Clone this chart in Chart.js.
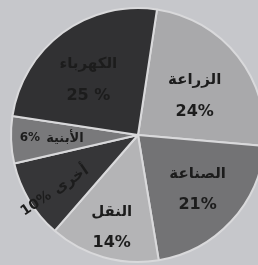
<!DOCTYPE html>
<html>
<head>
<meta charset="utf-8">
<script src="https://cdn.jsdelivr.net/npm/chart.js@4"></script>
<style>
  html, body { margin: 0; padding: 0; width: 258px; height: 265px; overflow: hidden; background: #c6c7cb; }
  #wrap { position: absolute; left: 0; top: 0; width: 276px; height: 270px; }
</style>
</head>
<body>
<div id="wrap"><canvas id="pie" width="276" height="270"></canvas></div>
<script>
// sectors, clockwise from the top
const sectors = ['الزراعة', 'الصناعة', 'النقل', 'أخرى', 'الأبنية', 'الكهرباء'];
const shares = [24, 21, 14, 10, 6, 25];
const shareLabels = ['24%', '21%', '14%', '10%', '6%', '25 %'];

// slice fill colours
const fills = ['#a9a9ab', '#737375', '#b4b4b6', '#363638', '#79797b', '#313133'];

// how each label sits in its slice: distance (fraction of radius), extra turn (deg),
// font size, stacked or single line, rotated along the radius
const labelStyle = [
  { dist: 0.54, turn: 4, size: 15, stacked: true },
  { dist: 0.64, turn: 0, size: 15, stacked: true },
  { dist: 0.76, turn: 0, size: 15, stacked: true },
  { dist: 0.79, turn: -3, size: 15, stacked: false, rotate: true },
  { dist: 0.68, turn: 0, size: 13, stacked: false },
  { dist: 0.58, turn: -6, size: 15, stacked: true }
];

// draws the Arabic name and the percentage inside each slice
const sliceLabels = {
  id: 'sliceLabels',
  afterDatasetsDraw(chart) {
    const ctx = chart.ctx;
    const arcs = chart.getDatasetMeta(0).data;
    arcs.forEach(function(arc, i) {
      const p = arc.getProps(['x', 'y', 'startAngle', 'endAngle', 'outerRadius'], true);
      const st = labelStyle[i];
      const mid = (p.startAngle + p.endAngle) / 2 + st.turn * Math.PI / 180;
      const cx = p.x + Math.cos(mid) * p.outerRadius * st.dist;
      const cy = p.y + Math.sin(mid) * p.outerRadius * st.dist;
      ctx.save();
      ctx.translate(cx, cy);
      if (st.rotate) ctx.rotate(mid - Math.PI);
      ctx.fillStyle = '#1c1c1c';
      ctx.textBaseline = 'middle';
      ctx.textAlign = 'center';
      const nameFont = 'bold ' + st.size + 'px "DejaVu Sans"';
      const pctFont = 'bold ' + (st.stacked ? st.size + 1 : st.size - 1) + 'px "DejaVu Sans"';
      if (st.stacked) {
        ctx.font = nameFont;
        ctx.fillText(sectors[i], 0, -16);
        ctx.font = pctFont;
        ctx.fillText(shareLabels[i], 0, 15);
      } else {
        ctx.font = nameFont;
        const wName = ctx.measureText(sectors[i]).width;
        ctx.font = pctFont;
        const wPct = ctx.measureText(shareLabels[i]).width;
        const gap = 6;
        const left = -(wName + wPct + gap) / 2;
        ctx.textAlign = 'left';
        ctx.fillText(shareLabels[i], left, 0);
        ctx.font = nameFont;
        ctx.fillText(sectors[i], left + wPct + gap, 0);
      }
      ctx.restore();
    });
  }
};

new Chart(document.getElementById('pie'), {
  type: 'pie',
  data: {
    labels: sectors,
    datasets: [{
      data: shares,
      backgroundColor: fills,
      borderColor: '#d9d9db',
      borderWidth: 2
    }]
  },
  options: {
    responsive: false,
    animation: false,
    rotation: 8.6,
    layout: { padding: 7 },
    plugins: {
      legend: { display: false },
      tooltip: { enabled: false }
    }
  },
  plugins: [sliceLabels]
});
</script>
</body>
</html>
